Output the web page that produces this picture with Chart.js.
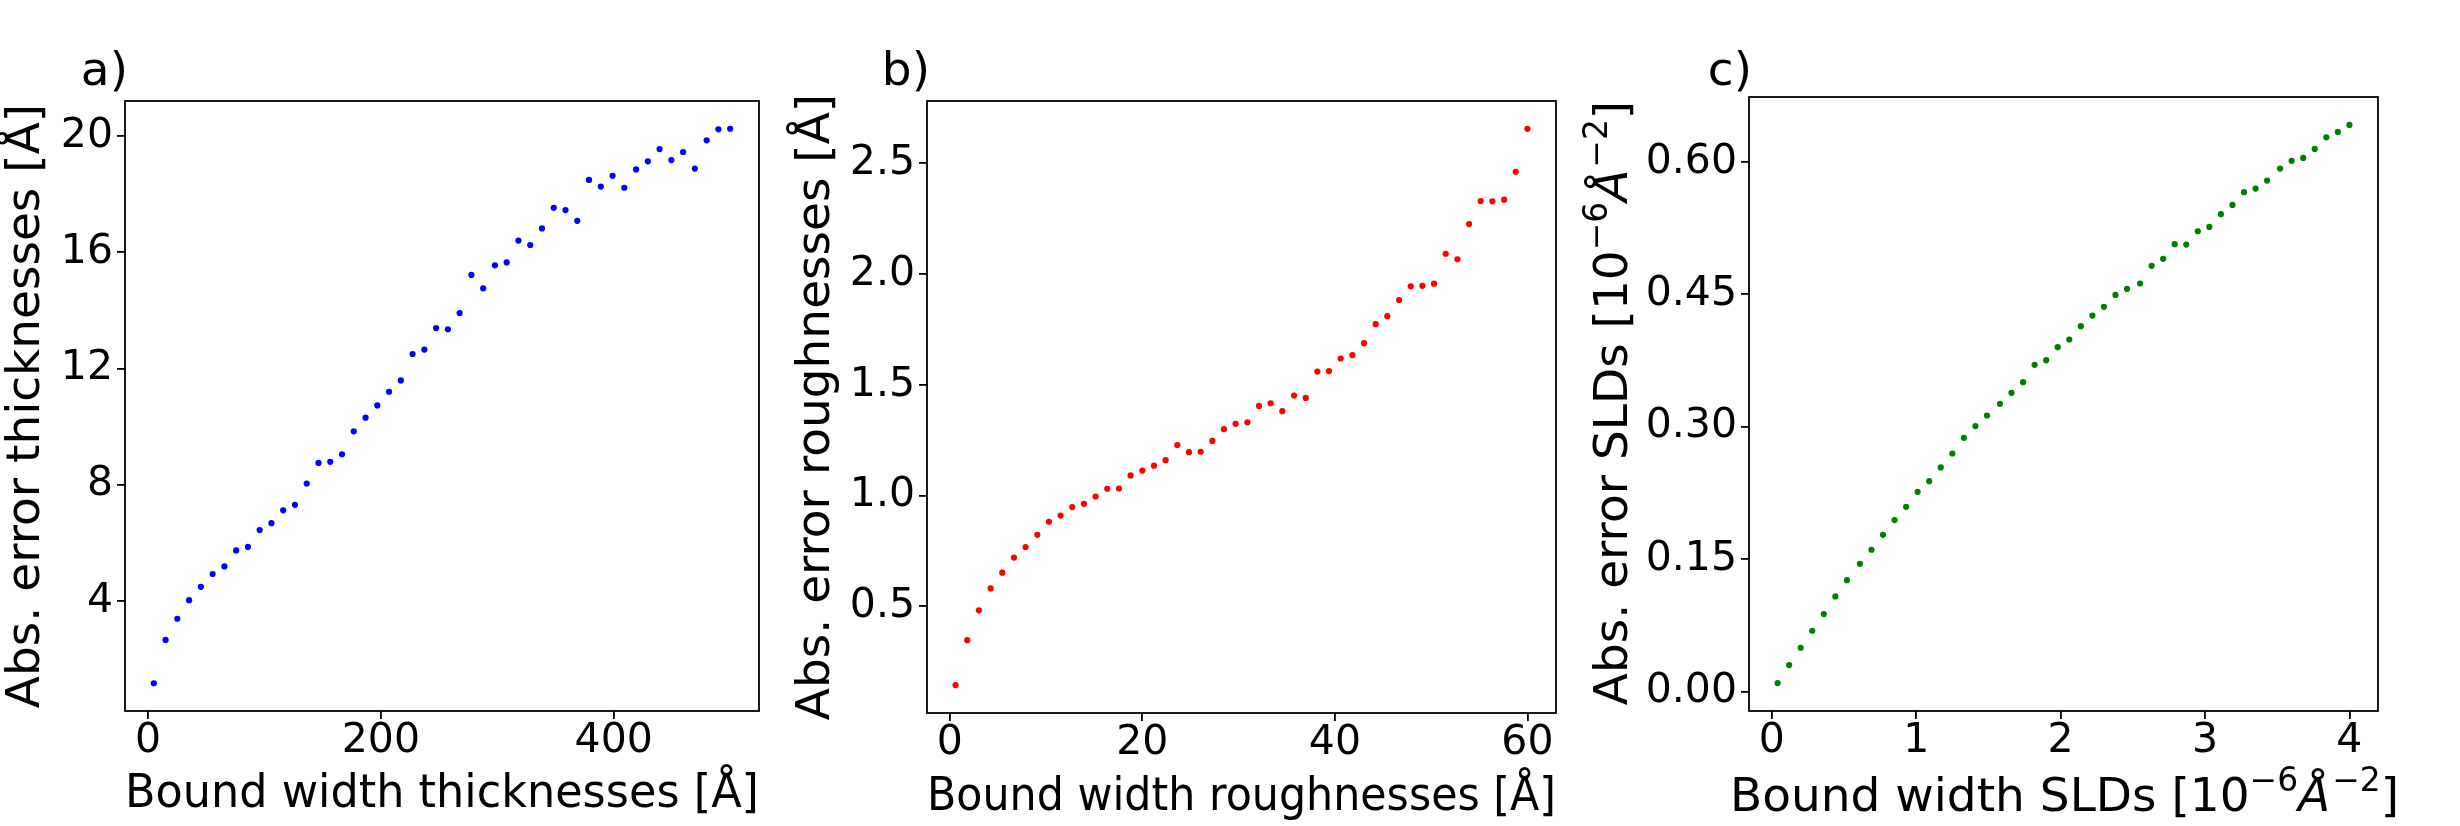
<!DOCTYPE html>
<html>
<head>
<meta charset="utf-8">
<script src="https://cdn.jsdelivr.net/npm/chart.js@4.4.1/dist/chart.umd.min.js"></script>
<style>
  html, body { margin: 0; padding: 0; background: #ffffff; width: 2460px; height: 826px; overflow: hidden; }
  canvas { position: absolute; top: 0; }
</style>
</head>
<body>
<canvas id="ca" width="780" height="826" style="left:0px"></canvas>
<canvas id="cb" width="780" height="826" style="left:780px"></canvas>
<canvas id="cc" width="900" height="826" style="left:1560px"></canvas>
<script>
// ---------------- DATA ----------------
const thicknessBounds = [5.00, 15.10, 25.20, 35.31, 45.41, 55.51, 65.61, 75.71, 85.82, 95.92,
  106.02, 116.12, 126.22, 136.33, 146.43, 156.53, 166.63, 176.73, 186.84, 196.94,
  207.04, 217.14, 227.24, 237.35, 247.45, 257.55, 267.65, 277.76, 287.86, 297.96,
  308.06, 318.16, 328.27, 338.37, 348.47, 358.57, 368.67, 378.78, 388.88, 398.98,
  409.08, 419.18, 429.29, 439.39, 449.49, 459.59, 469.69, 479.80, 489.90, 500.00];
const thicknessErrors = [1.17, 2.66, 3.39, 4.03, 4.49, 4.93, 5.19, 5.74, 5.86, 6.44,
  6.68, 7.12, 7.31, 8.04, 8.75, 8.79, 9.05, 9.84, 10.31, 10.73,
  11.20, 11.59, 12.50, 12.65, 13.39, 13.35, 13.91, 15.22, 14.76, 15.55,
  15.65, 16.40, 16.25, 16.82, 17.53, 17.45, 17.08, 18.49, 18.26, 18.63,
  18.22, 18.85, 19.13, 19.55, 19.17, 19.45, 18.88, 19.85, 20.23, 20.25];

const roughnessBounds = [0.60, 1.81, 3.02, 4.24, 5.45, 6.66, 7.87, 9.09, 10.30, 11.51,
  12.72, 13.93, 15.15, 16.36, 17.57, 18.78, 20.00, 21.21, 22.42, 23.63,
  24.84, 26.06, 27.27, 28.48, 29.69, 30.91, 32.12, 33.33, 34.54, 35.76,
  36.97, 38.18, 39.39, 40.60, 41.82, 43.03, 44.24, 45.45, 46.67, 47.88,
  49.09, 50.30, 51.51, 52.73, 53.94, 55.15, 56.36, 57.58, 58.79, 60.00];
const roughnessErrors = [0.144, 0.347, 0.482, 0.581, 0.652, 0.720, 0.768, 0.823, 0.882, 0.910,
  0.948, 0.963, 0.996, 1.031, 1.032, 1.091, 1.113, 1.135, 1.160, 1.228,
  1.196, 1.198, 1.247, 1.300, 1.324, 1.331, 1.405, 1.417, 1.381, 1.452,
  1.441, 1.560, 1.562, 1.619, 1.634, 1.688, 1.774, 1.810, 1.883, 1.945,
  1.947, 1.957, 2.092, 2.067, 2.226, 2.330, 2.329, 2.336, 2.462, 2.656];

const sldBounds = [0.04, 0.12, 0.20, 0.28, 0.36, 0.44, 0.52, 0.61, 0.69, 0.77,
  0.85, 0.93, 1.01, 1.09, 1.17, 1.25, 1.33, 1.41, 1.49, 1.58,
  1.66, 1.74, 1.82, 1.90, 1.98, 2.06, 2.14, 2.22, 2.30, 2.38,
  2.46, 2.55, 2.63, 2.71, 2.79, 2.87, 2.95, 3.03, 3.11, 3.19,
  3.27, 3.35, 3.43, 3.52, 3.60, 3.68, 3.76, 3.84, 3.92, 4.00];
const sldErrors = [0.0098, 0.0302, 0.0498, 0.0691, 0.0880, 0.1079, 0.1264, 0.1449, 0.1608, 0.1777,
  0.1944, 0.2094, 0.2264, 0.2385, 0.2540, 0.2698, 0.2876, 0.3008, 0.3128, 0.3260,
  0.3385, 0.3506, 0.3702, 0.3755, 0.3902, 0.3989, 0.4140, 0.4260, 0.4359, 0.4494,
  0.4562, 0.4623, 0.4823, 0.4902, 0.5068, 0.5064, 0.5215, 0.5264, 0.5408, 0.5513,
  0.5657, 0.5698, 0.5789, 0.5925, 0.6012, 0.6045, 0.6147, 0.6279, 0.6340, 0.6419];

// tick values and labels
const thicknessXTicks = [0, 200, 400];
const thicknessXTickLabels = ['0', '200', '400'];
const thicknessYTicks = [4, 8, 12, 16, 20];
const thicknessYTickLabels = ['4', '8', '12', '16', '20'];
const roughnessXTicks = [0, 20, 40, 60];
const roughnessXTickLabels = ['0', '20', '40', '60'];
const roughnessYTicks = [0.5, 1.0, 1.5, 2.0, 2.5];
const roughnessYTickLabels = ['0.5', '1.0', '1.5', '2.0', '2.5'];
const sldXTicks = [0, 1, 2, 3, 4];
const sldXTickLabels = ['0', '1', '2', '3', '4'];
const sldYTicks = [0, 0.15, 0.30, 0.45, 0.60];
const sldYTickLabels = ['0.00', '0.15', '0.30', '0.45', '0.60'];

// text
const panelLetters = ['a)', 'b)', 'c)'];
const xTitles = ['Bound width thicknesses [Å]', 'Bound width roughnesses [Å]', 'Bound width SLDs [10\u2212\u2076Å\u2212\u00B2]'];
const yTitles = ['Abs. error thicknesses [Å]', 'Abs. error roughnesses [Å]', 'Abs. error SLDs [10\u2212\u2076Å\u2212\u00B2]'];
// rich (math-like) pieces of the SLD titles: [text, style]  (n = normal, s = superscript, i = italic)
const sldXTitlePieces = [['Bound width SLDs [10', 'n'], ['\u22126', 's'], ['Å', 'i'], ['\u22122', 's'], [']', 'n']];
const sldYTitlePieces = [['Abs. error SLDs [10', 'n'], ['\u22126', 's'], ['Å', 'i'], ['\u22122', 's'], [']', 'n']];

// ---------------- RENDERING ----------------
Chart.defaults.font.family = '"DejaVu Sans", sans-serif';
Chart.defaults.color = '#000000';

const FONT = '"DejaVu Sans", sans-serif';
const TICK_SIZE = 41;
const TITLE_SIZE = 47;

function paddedRange(arr) {
  const lo = Math.min(...arr), hi = Math.max(...arr);
  const m = 0.05 * (hi - lo);
  return [lo - m, hi + m];
}

function pieceFont(style) {
  if (style === 's') return (TITLE_SIZE * 0.7).toFixed(1) + 'px ' + FONT;
  if (style === 'i') return 'italic ' + TITLE_SIZE + 'px ' + FONT;
  return TITLE_SIZE + 'px ' + FONT;
}

function drawRich(ctx, pieces, cx, baseY) {
  // draws centered at cx on baseline baseY (in current transform)
  let total = 0;
  const widths = pieces.map(([t, s]) => { ctx.font = pieceFont(s); const w = ctx.measureText(t).width; total += w; return w; });
  let x = cx - total / 2;
  ctx.textAlign = 'left';
  ctx.textBaseline = 'alphabetic';
  pieces.forEach(([t, s], i) => {
    ctx.font = pieceFont(s);
    const dy = s === 's' ? -TITLE_SIZE * 0.42 : 0;
    ctx.fillText(t, x, baseY + dy);
    x += widths[i] + (s === 'i' ? 2 : 0);
  });
}

const framePlugin = {
  id: 'frame',
  afterDraw(chart, args, opts) {
    const { ctx, chartArea } = chart;
    const { left, top, right, bottom } = chartArea;
    ctx.save();
    ctx.strokeStyle = '#000000';
    ctx.lineWidth = 1.8;
    ctx.strokeRect(left, top, right - left, bottom - top);
    ctx.fillStyle = '#000000';
    ctx.font = TITLE_SIZE + 'px ' + FONT;
    ctx.textAlign = 'right';
    ctx.textBaseline = 'alphabetic';
    ctx.fillText(opts.letter, left + 3, opts.letterY);
    if (opts.richX) {
      drawRich(ctx, opts.richX, (left + right) / 2, opts.richXBase);
    }
    if (opts.richY) {
      ctx.save();
      ctx.translate(opts.richYBase, (top + bottom) / 2);
      ctx.rotate(-Math.PI / 2);
      drawRich(ctx, opts.richY, 0, 0);
      ctx.restore();
    }
    ctx.restore();
  }
};

function makePanel(p) {
  const canvas = document.getElementById(p.id);
  const W = canvas.width, H = canvas.height;
  const [xmin, xmax] = paddedRange(p.xs);
  const [ymin, ymax] = paddedRange(p.ys);
  const pts = p.xs.map((x, i) => ({ x: x, y: p.ys[i] }));
  const rich = !!p.richX;
  return new Chart(canvas.getContext('2d'), {
    type: 'scatter',
    data: {
      datasets: [{
        data: pts,
        backgroundColor: p.color,
        borderColor: p.color,
        borderWidth: 0,
        pointRadius: 3.1,
        pointHoverRadius: 3.1,
        showLine: false
      }]
    },
    options: {
      responsive: false,
      animation: false,
      devicePixelRatio: 1,
      events: [],
      layout: { padding: { left: 0, top: p.top, right: W - (p.right - p.offset), bottom: 0 } },
      plugins: {
        legend: { display: false },
        tooltip: { enabled: false },
        frame: { letter: p.letter, letterY: 85,
                 richX: p.richX, richXBase: p.richXBase,
                 richY: p.richY, richYBase: p.richYBase }
      },
      scales: {
        x: {
          type: 'linear',
          position: 'bottom',
          min: xmin, max: xmax,
          afterBuildTicks: s => { s.ticks = p.xTicks.map(v => ({ value: v })); },
          afterFit: s => { s.height = H - p.bottom; },
          border: { display: false },
          grid: { display: true, drawOnChartArea: false, drawTicks: true, tickLength: 8, tickWidth: 1.8, tickColor: '#000000', lineWidth: 1.8, color: '#000000' },
          ticks: {
            autoSkip: false, maxRotation: 0, padding: 2,
            font: { family: FONT, size: TICK_SIZE, lineHeight: 1 },
            color: '#000000',
            callback: (v, i) => p.xTickLabels[i]
          },
          title: {
            display: !rich, text: p.xTitle, color: '#000000',
            font: { family: FONT, size: TITLE_SIZE, lineHeight: 1 },
            padding: { top: 0, bottom: p.xTitlePad }
          }
        },
        y: {
          type: 'linear',
          position: 'left',
          min: ymin, max: ymax,
          afterBuildTicks: s => { s.ticks = p.yTicks.map(v => ({ value: v })); },
          afterFit: s => { s.width = p.left - p.offset; },
          border: { display: false },
          grid: { display: true, drawOnChartArea: false, drawTicks: true, tickLength: 8, tickWidth: 1.8, tickColor: '#000000', lineWidth: 1.8, color: '#000000' },
          ticks: {
            autoSkip: false, padding: 4,
            font: { family: FONT, size: TICK_SIZE, lineHeight: 1 },
            color: '#000000',
            callback: (v, i) => p.yTickLabels[i]
          },
          title: {
            display: !rich, text: p.yTitle, color: '#000000',
            font: { family: FONT, size: TITLE_SIZE, lineHeight: 1 },
            padding: { top: p.yTitlePad, bottom: 0 }
          }
        }
      }
    },
    plugins: [framePlugin]
  });
}

makePanel({ id: 'ca', offset: 0, left: 125, right: 759, top: 101, bottom: 711,
  xs: thicknessBounds, ys: thicknessErrors, color: '#0000ff',
  xTicks: thicknessXTicks, xTickLabels: thicknessXTickLabels,
  yTicks: thicknessYTicks, yTickLabels: thicknessYTickLabels,
  xTitle: xTitles[0], yTitle: yTitles[0], letter: panelLetters[0],
  xTitlePad: 8, yTitlePad: 3 });

makePanel({ id: 'cb', offset: 780, left: 927, right: 1556, top: 101, bottom: 713,
  xs: roughnessBounds, ys: roughnessErrors, color: '#ff0000',
  xTicks: roughnessXTicks, xTickLabels: roughnessXTickLabels,
  yTicks: roughnessYTicks, yTickLabels: roughnessYTickLabels,
  xTitle: xTitles[1], yTitle: yTitles[1], letter: panelLetters[1],
  xTitlePad: 5, yTitlePad: 13 });

makePanel({ id: 'cc', offset: 1560, left: 1749, right: 2378, top: 97, bottom: 711,
  xs: sldBounds, ys: sldErrors, color: '#008000',
  xTicks: sldXTicks, xTickLabels: sldXTickLabels,
  yTicks: sldYTicks, yTickLabels: sldYTickLabels,
  xTitle: xTitles[2], yTitle: yTitles[2], letter: panelLetters[2],
  richX: sldXTitlePieces, richXBase: 811,
  richY: sldYTitlePieces, richYBase: 67,
  xTitlePad: 9, yTitlePad: 28 });
</script>
</body>
</html>
